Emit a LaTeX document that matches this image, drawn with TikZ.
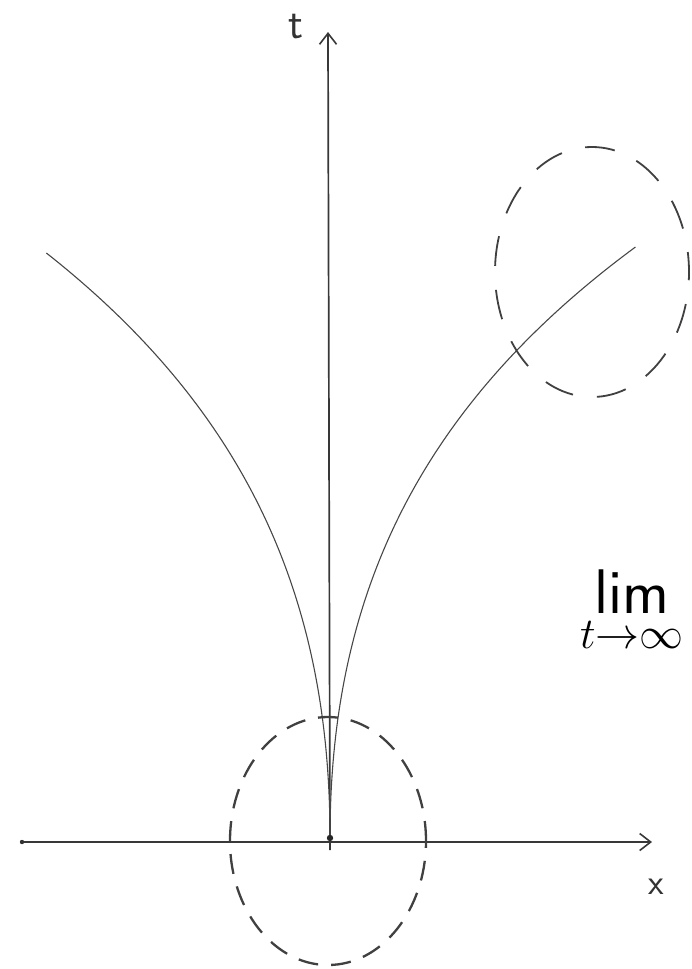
\RequirePackage{fix-cm}
\documentclass[tikz,border=0pt]{standalone}
\usetikzlibrary{arrows.meta}
\begin{document}
\begin{tikzpicture}[x=1pt,y=-1pt,
  axis/.style={draw=black!78, line width=1.7pt},
  curve/.style={draw=black!72, line width=1.1pt},
  dashell/.style={draw=black!75, line width=2.3pt, dash pattern=on 20pt off 13pt},
  dashellb/.style={draw=black!75, line width=1.8pt, dash pattern=on 30pt off 24pt, dash phase=10pt},
  tip/.style={-{Straight Barb[length=11pt,width=17pt,line width=1.6pt]}},
  hand/.style={text=black!80, inner sep=0pt}]
\useasboundingbox (0,0) rectangle (692,969);
% axes
\coordinate (O) at (330,838);
\coordinate (xl) at (22,842);
\coordinate (xr) at (652,842);
\coordinate (tb) at (330,850);
\coordinate (tt) at (328,32);
\draw[axis,tip] (xl) -- (xr);
\draw[axis,tip] (tb) -- (tt);
\fill[black!80] (xl) circle (2.2pt);
% curves
\draw[curve] plot[domain=0:591, samples=120, variable=\h] ({330 + 160*(exp(0.0025*\h)-1-0.0025*\h)}, {838-\h});
\draw[curve] plot[domain=0:585, samples=120, variable=\h] ({330 - 152.6*(exp(0.0025*\h)-1-0.0025*\h)}, {838-\h});
\fill[black!85] (O) circle (3.2pt);
% dashed ellipses
\draw[dashell] (328,841) ellipse [x radius=98pt, y radius=124pt];
\draw[dashellb] (592,272) ellipse [x radius=97pt, y radius=125pt];
% labels
\node[hand, font=\sffamily\fontsize{44}{44}\selectfont] (tlab) at (296,27) {t};
\node[hand, font=\sffamily\fontsize{36}{36}\selectfont] (xlab) at (656,887) {x};
\node[inner sep=0pt, anchor=base, font=\fontsize{44}{35}\selectfont] (lim) at (632,613)
  {\renewcommand{\arraystretch}{1}\begin{tabular}[t]{@{}c@{}}{\sffamily\fontsize{63}{63}\selectfont lim}\\[-2.5pt]$t{\to}\infty$\end{tabular}};
\end{tikzpicture}
\end{document}
